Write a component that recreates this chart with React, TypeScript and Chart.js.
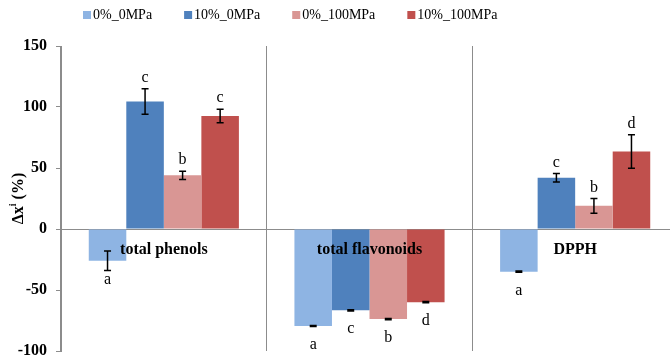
import { useEffect, useRef } from 'react';
import { Chart, registerables } from 'chart.js';
Chart.register(...registerables);

const categories = ['total phenols', 'total flavonoids', 'DPPH'];
const seriesNames = ['0%_0MPa', '10%_0MPa', '0%_100MPa', '10%_100MPa'];
const s0_0 = [-26, -79.5, -35];
const s10_0 = [104.5, -66.7, 42];
const s0_100 = [44, -73.8, 19];
const s10_100 = [92.6, -60, 63.5];
const e0_0 = [8, 0.5, 0.5];
const e10_0 = [10.5, 0.5, 3.4];
const e0_100 = [3.4, 0.5, 6];
const e10_100 = [5.5, 0.5, 13.8];
const l0_0 = ['a', 'a', 'a'];
const l10_0 = ['c', 'c', 'c'];
const l0_100 = ['b', 'b', 'b'];
const l10_100 = ['c', 'd', 'd'];
const yMin = -100;
const yMax = 150;
const yStep = 50;

const seriesValues = [s0_0, s10_0, s0_100, s10_100];
const seriesErrors = [e0_0, e10_0, e0_100, e10_100];
const seriesLetters = [l0_0, l10_0, l0_100, l10_100];
const colors = ['#8EB4E3', '#4F81BD', '#D99694', '#C0504D'];
const FONT = '"Liberation Serif", "Times New Roman", serif';

const overlay = {
  id: 'overlay',
  afterDatasetsDraw(chart: any) {
    const ctx = chart.ctx;
    const y = chart.scales.y;
    const x = chart.scales.x;
    ctx.save();
    chart.data.datasets.forEach((ds: any, i: number) => {
      const meta = chart.getDatasetMeta(i);
      meta.data.forEach((bar: any, j: number) => {
        const v = ds.data[j];
        const e = seriesErrors[i][j];
        const top = y.getPixelForValue(v + e);
        const bot = y.getPixelForValue(v - e);
        ctx.strokeStyle = '#000';
        ctx.lineWidth = 1.5;
        ctx.beginPath();
        ctx.moveTo(bar.x, top);
        ctx.lineTo(bar.x, bot);
        ctx.moveTo(bar.x - 3.5, top);
        ctx.lineTo(bar.x + 3.5, top);
        ctx.moveTo(bar.x - 3.5, bot);
        ctx.lineTo(bar.x + 3.5, bot);
        ctx.stroke();
        ctx.fillStyle = '#000';
        ctx.font = '16px ' + FONT;
        ctx.textAlign = 'center';
        ctx.textBaseline = 'alphabetic';
        const ly = v >= 0 ? top - 7 : y.getPixelForValue(v) + 23;
        ctx.fillText(seriesLetters[i][j], bar.x, ly);
      });
    });
    ctx.font = 'bold 16px ' + FONT;
    ctx.textAlign = 'center';
    ctx.textBaseline = 'alphabetic';
    ctx.fillStyle = '#000';
    categories.forEach((c, j) => {
      ctx.fillText(c, x.getPixelForValue(j), y.getPixelForValue(0) + 25);
    });
    ctx.restore();
  },
  afterDraw(chart: any) {
    const ctx = chart.ctx;
    const y = chart.scales.y;
    ctx.save();
    const cy = (y.top + y.bottom) / 2;
    ctx.translate(19, cy);
    ctx.rotate(-Math.PI / 2);
    ctx.fillStyle = '#000';
    ctx.textBaseline = 'middle';
    ctx.textAlign = 'left';
    const big = 'bold 16px ' + FONT;
    const small = 'bold 10px ' + FONT;
    ctx.font = big;
    const w1 = ctx.measureText('Δx').width;
    const w3 = ctx.measureText(' (%)').width;
    ctx.font = small;
    const w2 = ctx.measureText('i').width;
    let sx = -(w1 + w2 + w3) / 2;
    ctx.font = big;
    ctx.fillText('Δx', sx, 0);
    sx += w1;
    ctx.font = small;
    ctx.fillText('i', sx, -6);
    sx += w2;
    ctx.font = big;
    ctx.fillText(' (%)', sx, 0);
    ctx.restore();

    ctx.save();
    ctx.font = '14px ' + FONT;
    ctx.textBaseline = 'middle';
    ctx.textAlign = 'left';
    let lx = 83;
    chart.data.datasets.forEach((ds: any) => {
      ctx.fillStyle = ds.backgroundColor;
      ctx.fillRect(lx, 11, 8, 8);
      ctx.fillStyle = '#000';
      ctx.fillText(ds.label, lx + 10, 15.5);
      lx += 10 + ctx.measureText(ds.label).width + 32;
    });
    ctx.restore();
  },
};

export default function App() {
  const ref = useRef<HTMLCanvasElement>(null);
  useEffect(() => {
    if (!ref.current) return;
    const chart = new Chart(ref.current, {
      type: 'bar',
      data: {
        labels: categories,
        datasets: seriesNames.map((n, i) => ({
          label: n,
          data: seriesValues[i],
          backgroundColor: colors[i],
          borderWidth: 0,
          categoryPercentage: 0.73,
          barPercentage: 1,
        })),
      },
      options: {
        animation: false,
        responsive: true,
        maintainAspectRatio: false,
        layout: { padding: { top: 46, right: 8, bottom: 8, left: 0 } },
        plugins: { legend: { display: false }, tooltip: { enabled: false } },
        scales: {
          x: {
            ticks: { display: false, padding: 0 },
            grid: { offset: true, drawTicks: false, color: '#8c8c8c', lineWidth: 1 },
            border: { display: false },
            afterFit: (s: any) => {
              s.height = 0;
              s.paddingLeft = 0;
              s.paddingRight = 0;
            },
          },
          y: {
            min: yMin,
            max: yMax,
            ticks: {
              stepSize: yStep,
              color: '#000',
              padding: 9,
              font: { family: FONT, size: 16, weight: 'bold' },
            },
            grid: {
              color: (c: any) => (c.tick && c.tick.value === 0 ? '#8c8c8c' : 'rgba(0,0,0,0)'),
              tickColor: '#8c8c8c',
              tickLength: 5,
            },
            border: { display: true, color: '#8c8c8c', width: 1 },
            afterFit: (s: any) => {
              s.width = 61;
              s.paddingTop = 0;
              s.paddingBottom = 0;
            },
          },
        },
      },
      plugins: [overlay],
    });
    return () => chart.destroy();
  }, []);
  return (
    <div style={{ position: 'fixed', left: 0, top: 0, width: 670, height: 359, overflow: 'hidden', background: '#fff' }}>
      <div style={{ position: 'relative', width: 686, height: 359 }}>
        <canvas ref={ref} />
      </div>
    </div>
  );
}
